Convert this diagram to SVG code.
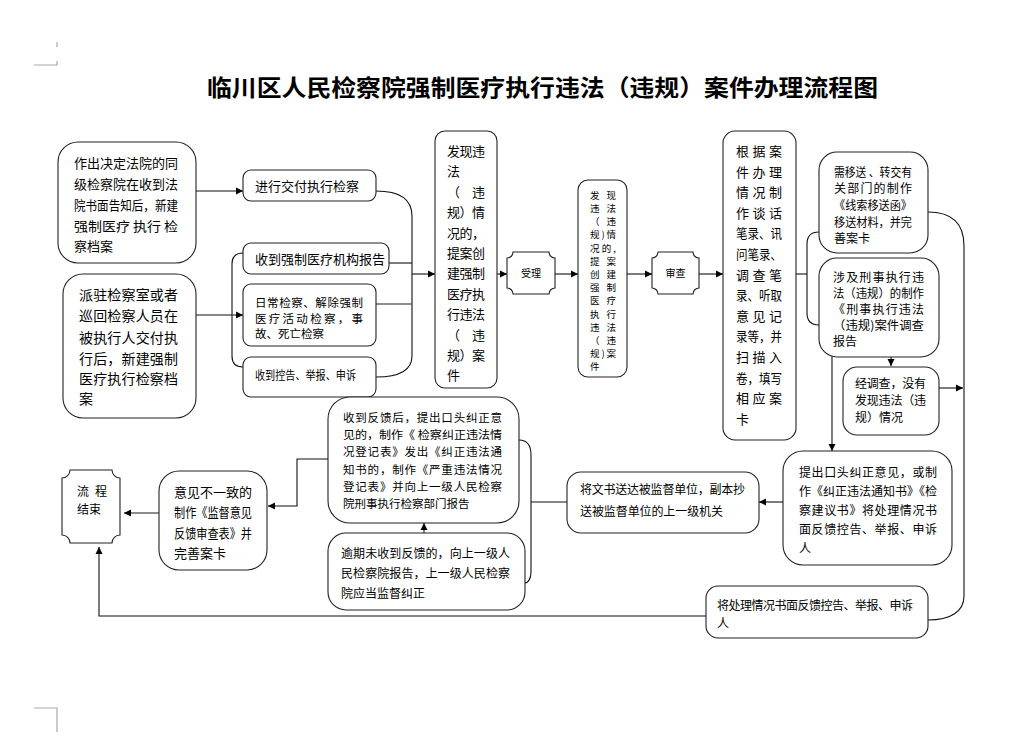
<svg xmlns="http://www.w3.org/2000/svg" width="1010" height="736" viewBox="0 0 1010 736">
<style>
.box{fill:#fff;stroke:#222;stroke-width:1.1}
.t{font-family:"Noto Sans CJK SC","Noto Sans",sans-serif;font-size:13px;fill:#000}
.s12{font-size:12px}
.s115{font-size:11.5px}
.s10{font-size:10px}
.s95{font-size:9.5px}
.c{fill:none;stroke:#111;stroke-width:1.1}
.g{fill:none;stroke:#666;stroke-width:1.6}
.mark{fill:none;stroke:#aaa;stroke-width:1.2}
.title{font-family:"Noto Sans CJK SC","Noto Sans",sans-serif;font-size:23px;font-weight:700;fill:#000}
</style>
<defs>
<marker id="ah" markerWidth="8" markerHeight="8" refX="7" refY="4" orient="auto" markerUnits="userSpaceOnUse">
<path d="M0,0.5 L7,4 L0,7.5 Z" fill="#000"/>
</marker>
</defs>
<rect width="1010" height="736" fill="#fff"/>
<g id="page-marks">
<path class="mark" d="M57,42 V47 M34,65 H57 V61 M34,708 H57 V732"/>
</g>
<text class="title" x="207" y="96" textLength="671" lengthAdjust="spacingAndGlyphs">临川区人民检察院强制医疗执行违法（违规）案件办理流程图</text>

<g id="connectors">
<path class="c" d="M196,191 H243" marker-end="url(#ah)"/>
<path class="c" d="M196,315 H243" marker-end="url(#ah)"/>
<path class="c" d="M243,253 Q232,253 232,264 L232,356 Q232,367 243,367"/>
<path class="c" d="M376,191 C400,191 412,200 412,216 L412,356 C412,370 400,377 376,377"/>
<path class="c" d="M389,263 H412"/>
<path class="g" d="M376,304 H412"/>
<path class="c" d="M412,274 H435" marker-end="url(#ah)"/>
<path class="c" d="M497,274 H507" marker-end="url(#ah)"/>
<path class="c" d="M555,274 H578" marker-end="url(#ah)"/>
<path class="c" d="M627,274 H652" marker-end="url(#ah)"/>
<path class="c" d="M699,274 H723" marker-end="url(#ah)"/>
<path class="c" d="M796,274 H807"/>
<path class="c" d="M819,232 Q807,232 807,244 L807,313 Q807,325 819,325"/>
<path class="c" d="M891,357 V366" marker-end="url(#ah)"/>
<path class="c" d="M939,388 H963" marker-end="url(#ah)"/>
<path class="c" d="M928,212 C954,212 964,226 964,246 L964,596 C964,612 950,620 928,620"/>
<path class="c" d="M832,355 V451" marker-end="url(#ah)"/>
<path class="c" d="M783,502 H759" marker-end="url(#ah)"/>
<path class="c" d="M567,502 H531"/>
<path class="c" d="M519,440 C528,440 531,446 531,455 L531,572 C531,579 528,583 525,583"/>
<path class="c" d="M424,533 V523" marker-end="url(#ah)"/>
<path class="c" d="M328,459 H297 V506 H268" marker-end="url(#ah)"/>
<path class="g" d="M159,513 H124" marker-end="url(#ah)"/>
<path class="c" d="M713,616 H99 V547" marker-end="url(#ah)"/>
</g>

<g id="n-court">
<rect class="box" x="58" y="142" width="138" height="121" rx="20"/>
<text class="t"><tspan x="74" y="168" textLength="104" lengthAdjust="spacingAndGlyphs">作出决定法院的同</tspan><tspan x="74" y="189" textLength="104" lengthAdjust="spacingAndGlyphs">级检察院在收到法</tspan><tspan x="74" y="210" textLength="104" lengthAdjust="spacingAndGlyphs">院书面告知后，新建</tspan><tspan x="74" y="231" textLength="104" lengthAdjust="spacingAndGlyphs">强制医疗 执行 检</tspan><tspan x="74" y="251">察档案</tspan></text>
</g>
<g id="n-station">
<rect class="box" x="63" y="274" width="133" height="144" rx="20"/>
<text class="t" style="font-size:14px"><tspan x="79" y="300" textLength="99">派驻检察室或者</tspan><tspan x="79" y="321" textLength="99">巡回检察人员在</tspan><tspan x="79" y="343" textLength="99">被执行人交付执</tspan><tspan x="79" y="364" textLength="99">行后，新建强制</tspan><tspan x="79" y="384" textLength="99">医疗执行检察档</tspan><tspan x="79" y="404">案</tspan></text>
</g>
<g id="n-deliver">
<rect class="box" x="243" y="170" width="133" height="31" rx="8"/>
<text class="t" x="255" y="191">进行交付执行检察</text>
</g>
<g id="n-report">
<rect class="box" x="243" y="243" width="146" height="31" rx="8"/>
<text class="t" x="255" y="264">收到强制医疗机构报告</text>
</g>
<g id="n-daily">
<rect class="box" x="243" y="284" width="133" height="62" rx="8"/>
<text class="t s115"><tspan x="255" y="307" textLength="108">日常检察、解除强制</tspan><tspan x="255" y="323" textLength="108">医疗活动检察，事</tspan><tspan x="255" y="338">故、死亡检察</tspan></text>
</g>
<g id="n-complaint">
<rect class="box" x="243" y="357" width="133" height="40" rx="8"/>
<text class="t s12" x="255" y="380" textLength="101" lengthAdjust="spacingAndGlyphs">收到控告、举报、申诉</text>
</g>
<g id="n-found">
<rect class="box" x="435" y="131" width="62" height="257" rx="10"/>
<text class="t"><tspan x="447" y="156" textLength="38">发现违</tspan><tspan x="447" y="176">法</tspan><tspan x="447" y="197" textLength="38">（  违</tspan><tspan x="447" y="217" textLength="38">规）情</tspan><tspan x="447" y="238" textLength="38">况的，</tspan><tspan x="447" y="258" textLength="38">提案创</tspan><tspan x="447" y="278" textLength="38">建强制</tspan><tspan x="447" y="299" textLength="38">医疗执</tspan><tspan x="447" y="319" textLength="38">行违法</tspan><tspan x="447" y="340" textLength="38">（  违</tspan><tspan x="447" y="360" textLength="38">规）案</tspan><tspan x="447" y="380">件</tspan></text>
</g>
<g id="n-accept">
<path class="box" d="M513,252 H549 A6,6 0 0 0 555,258 V288 A6,6 0 0 0 549,294 H513 A6,6 0 0 0 507,288 V258 A6,6 0 0 0 513,252 Z"/>
<text class="t s10" x="531" y="277" text-anchor="middle">受理</text>
</g>
<g id="n-found2">
<rect class="box" x="578" y="180" width="49" height="197" rx="10"/>
<text class="t s95"><tspan x="590" y="199" textLength="26">发 现</tspan><tspan x="590" y="212" textLength="26">违 法</tspan><tspan x="590" y="225" textLength="26">（ 违</tspan><tspan x="590" y="238" textLength="26">规)情</tspan><tspan x="590" y="252" textLength="26">况的,</tspan><tspan x="590" y="265" textLength="26">提 案</tspan><tspan x="590" y="278" textLength="26">创 建</tspan><tspan x="590" y="291" textLength="26">强 制</tspan><tspan x="590" y="304" textLength="26">医 疗</tspan><tspan x="590" y="318" textLength="26">执 行</tspan><tspan x="590" y="331" textLength="26">违 法</tspan><tspan x="590" y="344" textLength="26">（ 违</tspan><tspan x="590" y="357" textLength="26">规)案</tspan><tspan x="590" y="370">件</tspan></text>
</g>
<g id="n-review">
<path class="box" d="M658,252 H693 A6,6 0 0 0 699,258 V288 A6,6 0 0 0 693,294 H658 A6,6 0 0 0 652,288 V258 A6,6 0 0 0 658,252 Z"/>
<text class="t s10" x="675.5" y="277" text-anchor="middle">审查</text>
</g>
<g id="n-record">
<rect class="box" x="723" y="131" width="73" height="309" rx="12"/>
<text class="t"><tspan x="736" y="156" textLength="46">根据案</tspan><tspan x="736" y="177" textLength="46">件办理</tspan><tspan x="736" y="197" textLength="46">情况制</tspan><tspan x="736" y="218" textLength="46">作谈话</tspan><tspan x="736" y="238" textLength="46" lengthAdjust="spacingAndGlyphs">笔录、讯</tspan><tspan x="736" y="259" textLength="46" lengthAdjust="spacingAndGlyphs">问笔录、</tspan><tspan x="736" y="280" textLength="46">调查笔</tspan><tspan x="736" y="300" textLength="46" lengthAdjust="spacingAndGlyphs">录、听取</tspan><tspan x="736" y="321" textLength="46">意见记</tspan><tspan x="736" y="341" textLength="46" lengthAdjust="spacingAndGlyphs">录等，并</tspan><tspan x="736" y="362" textLength="46">扫描入</tspan><tspan x="736" y="383" textLength="46" lengthAdjust="spacingAndGlyphs">卷，填写</tspan><tspan x="736" y="403" textLength="46">相应案</tspan><tspan x="736" y="424">卡</tspan></text>
</g>
<g id="n-transfer">
<rect class="box" x="819" y="152" width="109" height="101" rx="18"/>
<text class="t s12"><tspan x="834" y="177" textLength="78" lengthAdjust="spacingAndGlyphs">需移送 、转交有</tspan><tspan x="834" y="193" textLength="78">关部门的制作</tspan><tspan x="834" y="210" textLength="78" lengthAdjust="spacingAndGlyphs">《线索移送函》</tspan><tspan x="834" y="227" textLength="78" lengthAdjust="spacingAndGlyphs">移送材料，并完</tspan><tspan x="834" y="243">善案卡</tspan></text>
</g>
<g id="n-criminal">
<rect class="box" x="819" y="258" width="120" height="99" rx="18"/>
<text class="t s12"><tspan x="833" y="282" textLength="91">涉及刑事执行违</tspan><tspan x="833" y="298" textLength="91" lengthAdjust="spacingAndGlyphs">法（违规）的制作</tspan><tspan x="833" y="314" textLength="91">《刑事执行违法</tspan><tspan x="833" y="330" textLength="91" lengthAdjust="spacingAndGlyphs">（违规)案件调查</tspan><tspan x="833" y="346">报告</tspan></text>
</g>
<g id="n-nofound">
<rect class="box" x="843" y="367" width="96" height="68" rx="14"/>
<text class="t s12"><tspan x="855" y="388" textLength="71">经调查，没有</tspan><tspan x="855" y="405" textLength="71">发现违法（违</tspan><tspan x="855" y="422">规）情况</tspan></text>
</g>
<g id="n-correct">
<rect class="box" x="783" y="451" width="169" height="114" rx="20"/>
<text class="t s12"><tspan x="799" y="477" textLength="138">提出口头纠正意见，或制</tspan><tspan x="799" y="496" textLength="138" lengthAdjust="spacingAndGlyphs">作《纠正违法通知书》《检</tspan><tspan x="799" y="515" textLength="138">察建议书》将处理情况书</tspan><tspan x="799" y="534" textLength="138">面反馈控告、举报、申诉</tspan><tspan x="799" y="553">人</tspan></text>
</g>
<g id="n-serve">
<rect class="box" x="567" y="472" width="192" height="61" rx="14"/>
<text class="t s12"><tspan x="580" y="494" textLength="165">将文书送达被监督单位，副本抄</tspan><tspan x="580" y="516" textLength="143">送被监督单位的上一级机关</tspan></text>
</g>
<g id="n-feedback">
<rect class="box" x="706" y="586" width="222" height="52" rx="12"/>
<text class="t s12"><tspan x="717" y="610" textLength="196">将处理情况书面反馈控告、举报、申诉</tspan><tspan x="717" y="628">人</tspan></text>
</g>
<g id="n-received">
<rect class="box" x="328" y="397" width="191" height="126" rx="22"/>
<text class="t s115"><tspan x="343" y="422" textLength="159">收到反馈后，提出口头纠正意</tspan><tspan x="343" y="439" textLength="159" lengthAdjust="spacingAndGlyphs">见的，制作《 检察纠正违法情</tspan><tspan x="343" y="456" textLength="159">况登记表》发出《纠正违法通</tspan><tspan x="343" y="474" textLength="159">知书的，制作《严重违法情况</tspan><tspan x="343" y="491" textLength="159">登记表》并向上一级人民检察</tspan><tspan x="343" y="508">院刑事执行检察部门报告</tspan></text>
</g>
<g id="n-overdue">
<rect class="box" x="328" y="533" width="197" height="77" rx="18"/>
<text class="t s12"><tspan x="341" y="558" textLength="169">逾期未收到反馈的，向上一级人</tspan><tspan x="341" y="578" textLength="169">民检察院报告，上一级人民检察</tspan><tspan x="341" y="598">院应当监督纠正</tspan></text>
</g>
<g id="n-disagree">
<rect class="box" x="159" y="471" width="108" height="99" rx="20"/>
<text class="t"><tspan x="174" y="497" textLength="78">意见不一致的</tspan><tspan x="174" y="517" textLength="78" lengthAdjust="spacingAndGlyphs">制作《监督意见</tspan><tspan x="174" y="538" textLength="78" lengthAdjust="spacingAndGlyphs">反馈审查表》并</tspan><tspan x="174" y="558">完善案卡</tspan></text>
</g>
<g id="n-end">
<path class="box" d="M70,470 H112 A8,8 0 0 0 120,478 V535 A8,8 0 0 0 112,543 H70 A8,8 0 0 0 62,535 V478 A8,8 0 0 0 70,470 Z"/>
<text class="t s12"><tspan x="77" y="496" textLength="30">流 程</tspan><tspan x="77" y="514">结束</tspan></text>
</g>
</svg>
